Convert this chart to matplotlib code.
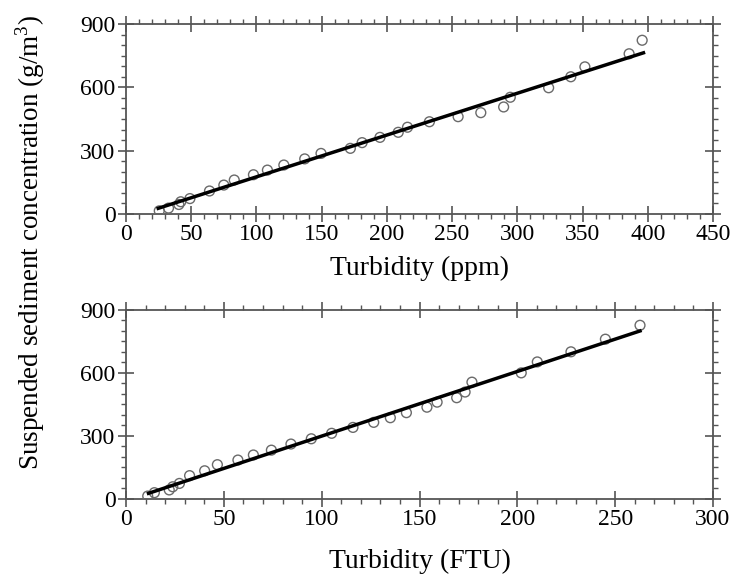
import numpy as np
import matplotlib
matplotlib.use("Agg")
import matplotlib.pyplot as plt
from matplotlib.ticker import MultipleLocator

plt.rcParams['font.family'] = ['Liberation Serif', 'DejaVu Serif']
plt.rcParams['mathtext.fontset'] = 'custom'
plt.rcParams['mathtext.rm'] = 'Liberation Serif'

# Top panel: turbidity (ppm) vs SSC
ppm_x = [25.5, 32.6, 40.5, 42.0, 49.0, 64.0, 75.0, 83.0, 97.7, 108.4, 121.0, 137.0,
         149.5, 172.0, 181.0, 194.7, 208.7, 215.8, 232.6, 254.6, 272.0, 289.5,
         294.6, 324.0, 341.0, 351.8, 385.7, 395.7]
ppm_y = [15, 28, 45, 58, 73, 109, 137, 161, 186, 208, 232, 261,
         287, 311, 338, 363, 387, 411, 437, 461, 480, 507,
         553, 598, 650, 697, 759, 823]
ppm_fit = [1.98, -22.0]     # slope, intercept of regression line
ppm_fit_range = [24.7, 396.7]

# Bottom panel: turbidity (FTU) vs SSC
ftu_x = [11.1, 14.5, 22.1, 23.9, 27.3, 32.5, 40.2, 46.7, 57.2, 65.1, 74.3, 84.3,
         94.7, 105.1, 116.0, 126.6, 135.1, 143.3, 153.8, 159.0, 169.0, 173.3,
         176.8, 202.0, 210.2, 227.4, 245.0, 262.7]
ftu_y = [14, 30, 43, 58, 74, 111, 134, 163, 185, 209, 232, 261,
         286, 312, 340, 364, 386, 410, 436, 460, 481, 508,
         555, 599, 651, 699, 759, 825]
ftu_fit = [3.07, -8.3]
ftu_fit_range = [11.5, 262.7]

xlabels = ["Turbidity (ppm)", "Turbidity (FTU)"]
ylabel = "Suspended sediment concentration (g/m$^3$)"
y_ticks = [0, 300, 600, 900]

fig = plt.figure(figsize=(7.35, 5.8), dpi=100)
W, H = 735, 580
ax1 = fig.add_axes([126 / W, 1 - 214 / H, (713 - 126) / W, (214 - 24) / H])
ax2 = fig.add_axes([126 / W, 1 - 499 / H, (713 - 126) / W, (499 - 309.5) / H])

panels = [
    (ax1, ppm_x, ppm_y, ppm_fit, ppm_fit_range, 450, xlabels[0], -0.284),
    (ax2, ftu_x, ftu_y, ftu_fit, ftu_fit_range, 300, xlabels[1], -0.332),
]
spine_col = '#555555'
for ax, xs, ys, fit, frange, xmax, xl, ly in panels:
    ax.scatter(xs, ys, s=50, facecolors='none', edgecolors='#6a6a6a', linewidths=1.0, zorder=3)
    lx = np.array(frange)
    ax.plot(lx, np.polyval(fit, lx), color='black', lw=2.5, zorder=4)
    ax.set_xlim(0, xmax)
    ax.set_ylim(0, 900)
    ax.set_yticks(y_ticks)
    ax.xaxis.set_major_locator(MultipleLocator(50))
    ax.xaxis.set_minor_locator(MultipleLocator(10))
    ax.yaxis.set_minor_locator(MultipleLocator(50))
    ax.tick_params(which='major', direction='inout', length=11, width=1.2, color=spine_col,
                   labelsize=17, top=True, right=True, labeltop=False, labelright=False, pad=2)
    ax.tick_params(which='minor', direction='out', length=3.6, width=1.0, color=spine_col,
                   top=True, right=True)
    for sp in ax.spines.values():
        sp.set_color(spine_col)
        sp.set_linewidth(1.3)
    ax.set_xlabel(xl, fontsize=20, va='center')
    ax.xaxis.set_label_coords(0.5, ly)

fig.text(30 / W, 1 - 243 / H, ylabel, rotation=90, ha='center', va='center', fontsize=19.5)

fig.savefig("out.png", dpi=100, facecolor='white')
